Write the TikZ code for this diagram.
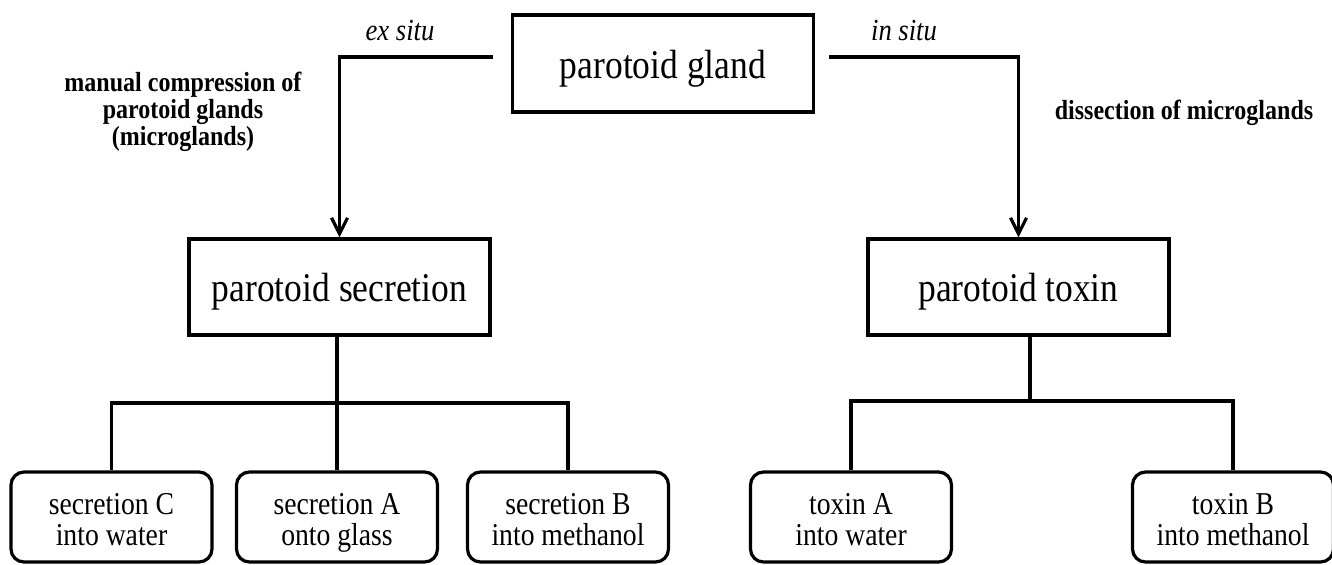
\documentclass[tikz,border=0pt]{standalone}
\usepackage{fontspec}
\setmainfont{Liberation Serif}[FakeStretch=0.87]
\usetikzlibrary{arrows.meta}

\begin{document}
\begin{tikzpicture}[x=0.5pt, y=-0.5pt, line width=1.6pt,
        bigbox/.style={draw, minimum width=150.5pt, minimum height=48pt, inner sep=0pt,
                text height=18.9pt, text depth=4.4pt, font=\fontsize{20.4}{23}\selectfont},
        smallbox/.style={draw, rounded corners=6.5pt, minimum width=100.5pt, minimum height=45pt,
                inner sep=0pt, align=center, text height=32pt, text depth=4pt,
                font=\fontsize{15.9}{15.5}\selectfont},
        howto/.style={font=\fontsize{15.3}{17}\selectfont\itshape},
        method/.style={align=center, font=\fontsize{13.8}{13.5}\selectfont\bfseries},
        arr/.style={-{Straight Barb[length=8pt, width=8pt]}}]
                \useasboundingbox (0, 0) rectangle (1332, 564);

                \node [bigbox, minimum height=48.5pt] (gland) at (663, 63.5) {parotoid gland};
                \node [bigbox] (secretion) at (339.5, 287) {parotoid secretion};
                \node [bigbox] (toxin) at (1018.5, 287) {parotoid toxin};

                \node [howto] (exsitu) at (400, 31) {ex situ};
                \node [howto] (insitu) at (904, 31) {in situ};
                \node [method] (compress) at (183, 112) {manual compression of\\parotoid glands\\(microglands)};
                \node [method] (dissect) at (1184, 113) {dissection of microglands};

                \node [smallbox] (secC) at (111.5, 517) {secretion C\\into water};
                \node [smallbox] (secA) at (337, 517) {secretion A\\onto glass};
                \node [smallbox] (secB) at (568, 517) {secretion B\\into methanol};
                \node [smallbox] (toxA) at (851, 517) {toxin A\\into water};
                \node [smallbox] (toxB) at (1233, 517) {toxin B\\into methanol};

                % the two ways out of the gland
                \coordinate (exfrom) at (493, 57);
                \coordinate (infrom) at (829, 57);
                \draw [arr] (exfrom) -| (secretion.north);
                \draw [arr] (infrom) -| (toxin.north);

                % secretion samples
                \coordinate (secjoin) at (337, 403);
                \draw (secjoin |- secretion.south) -- (secjoin) -- (secA);
                \draw (secC) |- (secjoin) -| (secB);

                % toxin samples
                \coordinate (toxjoin) at (1030, 401);
                \draw (toxjoin |- toxin.south) -- (toxjoin);
                \draw (toxA) |- (toxjoin) -| (toxB);
            \end{tikzpicture}
\end{document}
